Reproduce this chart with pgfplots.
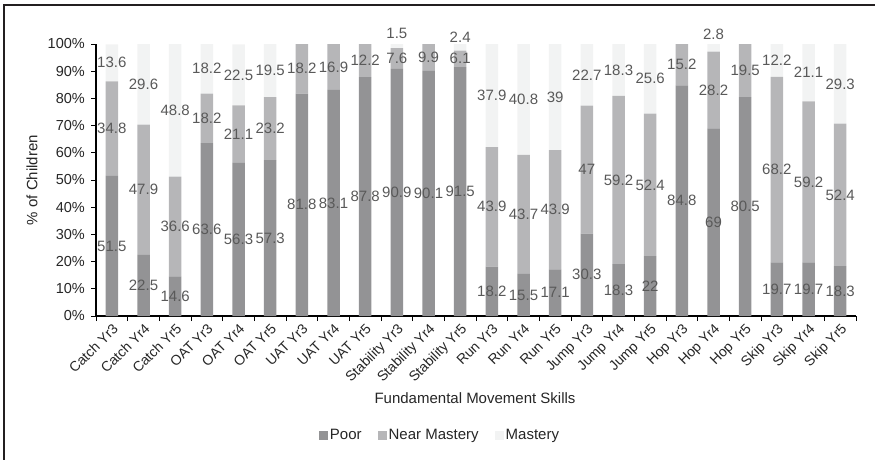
\documentclass[border=0pt]{standalone}
\usepackage{pgfplots}
\pgfplotsset{compat=1.18}
\usepackage{pgfplotstable}
\usepackage{fontspec}
\setmainfont{Liberation Sans}
\definecolor{poorc}{RGB}{147,147,149}
\definecolor{nearc}{RGB}{182,182,184}
\definecolor{mastc}{RGB}{242,243,243}
\definecolor{labc}{RGB}{89,89,89}
\definecolor{framec}{RGB}{35,31,32}

% plotted values (100% stacked) and the printed labels
\pgfplotstableread{
x poor near mast lp ln lm mo
0 51.5 34.8 13.6 51.5 34.8 13.6 0
1 22.5 47.9 29.6 22.5 47.9 29.6 0
2 14.6 36.6 48.8 14.6 36.6 48.8 0
3 63.6 18.2 18.2 63.6 18.2 18.2 0
4 56.3 21.1 22.5 56.3 21.1 22.5 0
5 57.3 23.2 19.5 57.3 23.2 19.5 0
6 81.8 18.2 0 81.8 18.2 {} 0
7 83.1 16.9 0 83.1 16.9 {} 0
8 87.8 12.2 0 87.8 12.2 {} 0
9 90.9 7.6 1.5 90.9 7.6 1.5 4.5
10 90.1 9.9 0 90.1 9.9 {} 0
11 91.5 6.1 2.4 91.5 6.1 2.4 3.8
12 18.2 43.9 37.9 18.2 43.9 37.9 0
13 15.5 43.7 40.8 15.5 43.7 40.8 0
14 17.1 43.9 39 17.1 43.9 39 0
15 30.3 47 22.7 30.3 47 22.7 0
16 19.1 61.8 19.1 18.3 59.2 18.3 0
17 22 52.4 25.6 22 52.4 25.6 0
18 84.8 15.2 0 84.8 15.2 {} 0
19 69 28.2 2.8 69 28.2 2.8 5.1
20 80.5 19.5 0 80.5 19.5 {} 0
21 19.7 68.2 12.2 19.7 68.2 12.2 0
22 19.7 59.2 21.1 19.7 59.2 21.1 0
23 18.3 52.4 29.3 18.3 52.4 29.3 0
}\data

\pgfplotsset{
  common/.style={
    at={(96pt,-316pt)}, anchor=south west,
    scale only axis, width=760pt, height=272pt,
    xmin=-0.5, xmax=23.5, ymin=0, ymax=100,
  },
  sqlegend/.style={legend image code/.code={\fill[##1] (0pt,-4.5pt) rectangle (9pt,4.5pt);}},
}

\begin{document}
\begin{tikzpicture}
\useasboundingbox (0pt,0pt) rectangle (875pt,-460pt);
\draw[framec, line width=2pt] (4pt,-460pt) -- (4pt,-5.5pt) -- (875pt,-5.5pt);
\begin{axis}[
  common,
  ybar stacked, bar width=12.5pt,
  axis x line*=bottom, axis y line*=left,
  axis line style={black, line width=1.3pt},
  xtick={-0.5,0.5,...,23.5},
  x tick label as interval,
  xticklabels={Catch Yr3,Catch Yr4,Catch Yr5,OAT Yr3,OAT Yr4,OAT Yr5,UAT Yr3,UAT Yr4,UAT Yr5,Stability Yr3,Stability Yr4,Stability Yr5,Run Yr3,Run Yr4,Run Yr5,Jump Yr3,Jump Yr4,Jump Yr5,Hop Yr3,Hop Yr4,Hop Yr5,Skip Yr3,Skip Yr4,Skip Yr5},
  xticklabel style={rotate=45, anchor=north east, inner sep=1pt, font=\fontsize{14}{16}\selectfont, text=black!85},
  ytick={0,10,...,100},
  yticklabels={0\%,10\%,20\%,30\%,40\%,50\%,60\%,70\%,80\%,90\%,100\%},
  yticklabel style={font=\fontsize{14.5}{16}\selectfont, text=black!85, inner sep=2pt, xshift=-4pt},
  tick align=outside, major tick length=5pt,
  tick style={black, line width=1pt},
  ylabel={\% of Children},
  ylabel style={at={(axis description cs:-0.0842,0.5)}, anchor=center, font=\fontsize{15}{18}\selectfont, text=black!85},
  xlabel={Fundamental Movement Skills},
  xlabel style={at={(axis description cs:0.4987,-0.3015)}, anchor=center, font=\fontsize{15}{18}\selectfont, text=black!85},
  legend style={at={(axis description cs:0.4526,-0.4375)}, anchor=center, draw=none, fill=none,
    legend columns=3, font=\fontsize{15}{18}\selectfont, text=black!85,
    /tikz/every even column/.append style={column sep=14pt}},
  legend cell align=left,
]
\addplot[fill=poorc, draw=none, sqlegend] table[x=x, y=poor] {\data};
\addplot[fill=nearc, draw=none, sqlegend] table[x=x, y=near] {\data};
\addplot[fill=mastc, draw=none, sqlegend] table[x=x, y=mast] {\data};
\legend{Poor, Near Mastery, Mastery}
\end{axis}
\begin{axis}[
  common, hide axis, clip=false,
  nodes near coords, nodes near coords align=center,
  every node near coord/.append style={font=\fontsize{15}{17}\selectfont, text=labc, inner sep=0pt},
]
\addplot[draw=none, mark=none, point meta=explicit symbolic] table[x=x, y expr=\thisrow{poor}/2, meta=lp] {\data};
\addplot[draw=none, mark=none, point meta=explicit symbolic] table[x=x, y expr=\thisrow{poor}+\thisrow{near}/2, meta=ln] {\data};
\addplot[draw=none, mark=none, point meta=explicit symbolic] table[x=x, y expr=\thisrow{poor}+\thisrow{near}+\thisrow{mast}/2+\thisrow{mo}, meta=lm] {\data};
\end{axis}
\end{tikzpicture}
\end{document}
